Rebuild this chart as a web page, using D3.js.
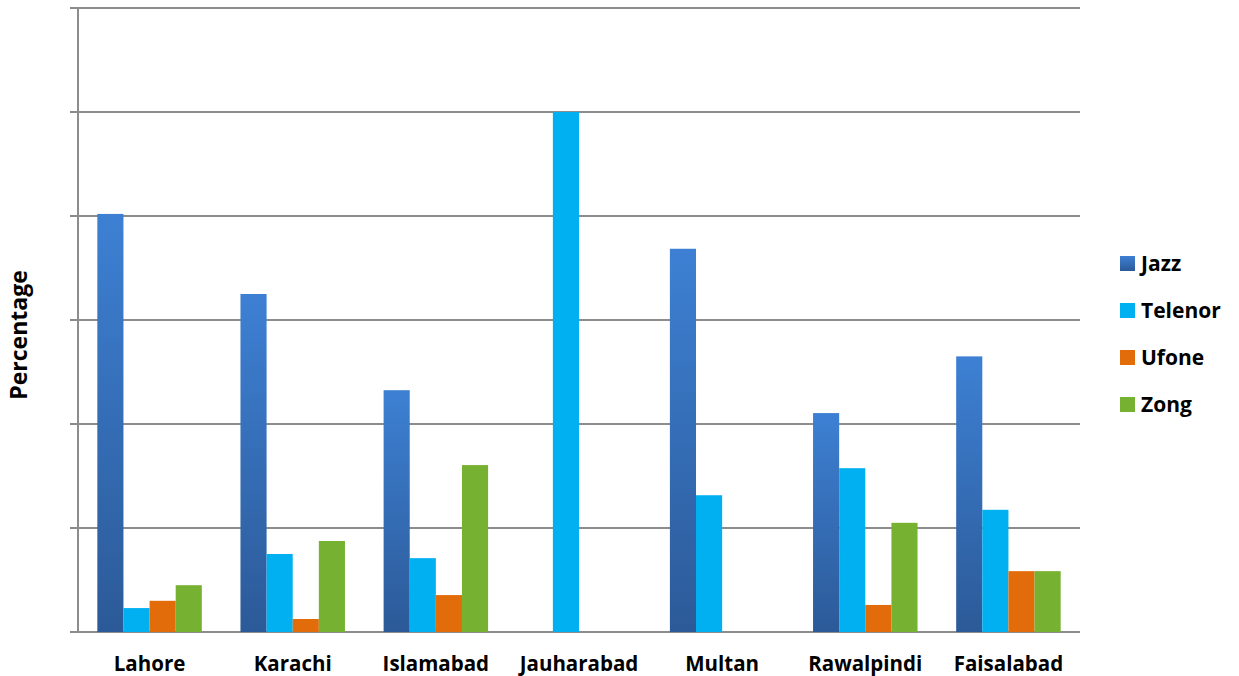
<!DOCTYPE html>
<html><head><meta charset="utf-8">
<script src="https://cdn.jsdelivr.net/npm/d3@7"></script>
<style>body{margin:0;background:#fff}text{font-family:"Open Sans","Liberation Sans",sans-serif;font-weight:bold}</style>
</head><body><svg id="c" width="1239" height="676"></svg>
<script>
const categories = ["Lahore","Karachi","Islamabad","Jauharabad","Multan","Rawalpindi","Faisalabad"];
const seriesNames = ["Jazz","Telenor","Ufone","Zong"];
const jazz    = [80.4, 65, 46.5, 0, 73.7, 42.1, 53];
const telenor = [4.6, 15, 14.2, 100, 26.3, 31.5, 23.5];
const ufone   = [6, 2.5, 7.1, 0, 0, 5.2, 11.7];
const zong    = [9, 17.5, 32.1, 0, 0, 21, 11.7];
const yTicks  = [0,20,40,60,80,100,120];
const values = [jazz, telenor, ufone, zong];
const colors = ["#3a76c4","#00b0f0","#e36c0a","#77b131"];

const svg = d3.select("#c");
const m = {l:78, r:159, t:8, b:44};
const W = 1239, H = 676;
const x0 = d3.scaleBand().domain(categories).range([m.l, W-m.r]).paddingInner(0.27).paddingOuter(0.135);
const x1 = d3.scaleBand().domain(seriesNames).range([0, x0.bandwidth()]);
const y = d3.scaleLinear().domain([0,120]).range([H-m.b, m.t]);

const defs = svg.append("defs");
const g = defs.append("linearGradient").attr("id","jz").attr("x1",0).attr("y1",0).attr("x2",0).attr("y2",1);
g.append("stop").attr("offset","0%").attr("stop-color","#3d80d3");
g.append("stop").attr("offset","100%").attr("stop-color","#2c5a98");

// gridlines
svg.append("g").selectAll("line").data(yTicks).join("line")
  .attr("x1", m.l-8).attr("x2", W-m.r).attr("y1", d=>y(d)).attr("y2", d=>y(d))
  .attr("stroke","#8c8c8c").attr("stroke-width",2);
// y axis
svg.append("line").attr("x1",m.l).attr("x2",m.l).attr("y1",y(120)).attr("y2",y(0)).attr("stroke","#8c8c8c").attr("stroke-width",2);

// bars
const gr = svg.append("g").selectAll("g").data(categories).join("g").attr("transform",c=>`translate(${x0(c)},0)`);
gr.selectAll("rect").data((c,i)=>seriesNames.map((s,j)=>({s, j, v:values[j][i]}))).join("rect")
  .attr("x", d=>x1(d.s)).attr("width", x1.bandwidth())
  .attr("y", d=>y(d.v)).attr("height", d=>y(0)-y(d.v))
  .attr("fill", d=>d.j===0?"url(#jz)":colors[d.j]);

// x labels
svg.append("g").selectAll("text").data(categories).join("text")
  .attr("x", c=>x0(c)+x0.bandwidth()/2).attr("y", 671).attr("text-anchor","middle")
  .attr("font-size",20.5).attr("fill","#000").text(c=>c);

// y title
svg.append("text").attr("transform","translate(27,335) rotate(-90)").attr("text-anchor","middle")
  .attr("font-size",23).attr("fill","#000").text("Percentage");

// legend
const lg = svg.append("g").selectAll("g").data(seriesNames).join("g").attr("transform",(d,i)=>`translate(1120,${256+i*47})`);
lg.append("rect").attr("width",15).attr("height",15).attr("fill",(d,i)=>i===0?"url(#jz)":colors[i]);
lg.append("text").attr("x",21).attr("y",15).attr("font-size",21).attr("fill","#000").text(d=>d);
</script></body></html>
